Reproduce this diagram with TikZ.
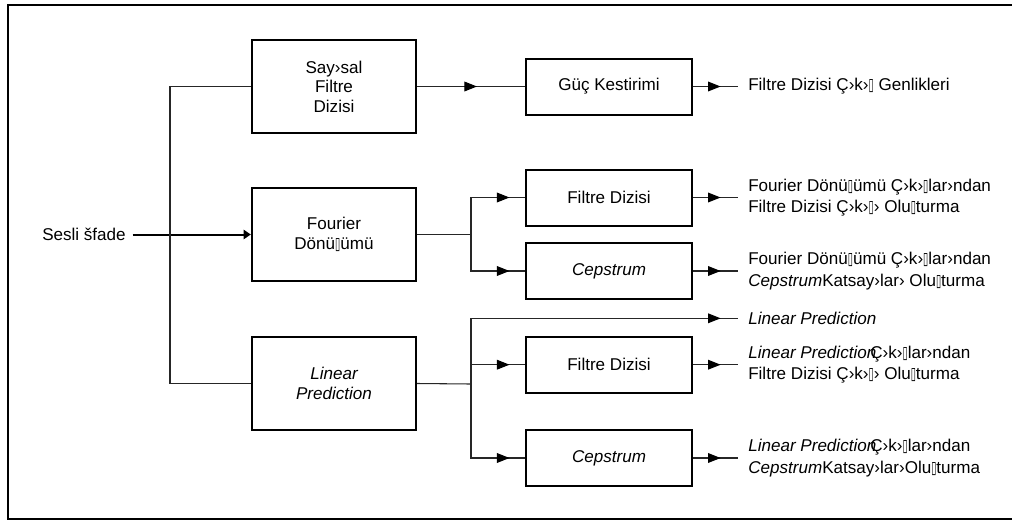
\documentclass[tikz,border=0pt]{standalone}
\usepackage{fontspec}
\setmainfont{Liberation Sans}
\newfontfamily\symf{DejaVu Sans}
\usetikzlibrary{arrows.meta,decorations.markings}
% narrow empty box glyph
\newcommand\missgl{\scalebox{0.55}[1]{\symf ▯}}
\newcommand\boxfont{\fontsize{12.8pt}{14.6pt}\selectfont}
\newcommand\outfont{\fontsize{12.8pt}{16.2pt}\selectfont}

\tikzset{
  blk/.style={draw=black, line width=1.5pt, fill=white, align=center,
    inner sep=0pt, font=\boxfont},
  bigblk/.style={blk, minimum width=123.2pt, minimum height=69.75pt},
  smlblk/.style={blk, minimum width=124.5pt, minimum height=42pt},
  outtxt/.style={anchor=west, inner sep=0pt, align=left, font=\outfont},
  conn/.style={draw=black!85, line width=0.8pt},
  tipat/.style={postaction={decorate}, decoration={markings,
    mark=at position #1 with {\arrow[black]{Triangle[length=9.5pt,width=7.3pt]}}}},
}

\begin{document}
\begin{tikzpicture}[x=0.75pt,y=-0.75pt]
\useasboundingbox (0,0) rectangle (1012,521);

% outer frame (runs past the right edge)
\draw[line width=1.5pt] (1014,5) -- (8,5) -- (8,519) -- (1014,519);

% processing blocks
\node[bigblk] (say) at (334,86.5) {Say›sal\\Filtre\\Dizisi};
\node[bigblk] (four) at (334,234.5) {Fourier\\Dönü\missgl{}ümü};
\node[bigblk, font=\boxfont\itshape] (lp) at (334,383.5) {Linear\\Prediction};

\node[smlblk] (guc) at (609,86.5) {Güç Kestirimi};
\node[smlblk] (fd1) at (609,197.5) {Filtre Dizisi};
\node[smlblk, font=\boxfont\itshape] (cep1) at (609,271) {Cepstrum};
\node[smlblk] (fd2) at (609,364.7) {Filtre Dizisi};
\node[smlblk, font=\boxfont\itshape] (cep2) at (609,458) {Cepstrum};

% input
\node[anchor=east, inner sep=0pt, font=\boxfont] (src) at (126,234.5) {Sesli šfade};
\draw[line width=1.5pt, shorten <=5pt, -{Triangle[length=5.5pt,width=7pt]}] (src.east) -- (four.west);

% feed to the upper and lower blocks
\coordinate (spine) at (170,234.5);
\draw[conn] (say.west) -| (spine) |- (lp.west);

% junctions
\coordinate (jf) at (471,234.5);
\coordinate (jl) at (471,384);

% output ends
\coordinate (o1) at (738,86.5);
\coordinate (o2) at (738,197.5);
\coordinate (o3) at (738,271);
\coordinate (o4) at (738,318.3);
\coordinate (o5) at (738,364.7);
\coordinate (o6) at (738,458);

% connectors
\draw[conn, tipat=-36pt] (say.east) -- (guc.west);
\draw[conn] (four.east) -- (jf);
\draw[conn, tipat=-11.6pt] (jf) |- (fd1.west);
\draw[conn, tipat=-11.6pt] (jf) |- (cep1.west);
\draw[conn] (lp.east) -- (jl);
\draw[conn, tipat=-13pt] (jl) |- (o4);
\draw[conn, tipat=-11.6pt] (jl) |- (fd2.west);
\draw[conn, tipat=-11.6pt] (jl) |- (cep2.west);

\draw[conn, tipat=-13pt] (guc.east) -- (o1);
\draw[conn, tipat=-13pt] (fd1.east) -- (o2);
\draw[conn, tipat=-13pt] (cep1.east) -- (o3);
\draw[conn, tipat=-13pt] (fd2.east) -- (o5);
\draw[conn, tipat=-13pt] (cep2.east) -- (o6);

% output labels
\node[outtxt] (t1) at ([xshift=7.5pt]o1) {Filtre Dizisi Ç›k›\missgl{} Genlikleri};
\node[outtxt] (t2) at ([xshift=7.5pt]o2) {Fourier Dönü\missgl{}ümü Ç›k›\missgl{}lar›ndan\\Filtre Dizisi Ç›k›\missgl{}› Olu\missgl{}turma};
\node[outtxt] (t3) at ([xshift=7.5pt]o3) {Fourier Dönü\missgl{}ümü Ç›k›\missgl{}lar›ndan\\\textit{Cepstrum}Katsay›lar› Olu\missgl{}turma};
\node[outtxt] (t4) at ([xshift=7.5pt]o4) {\textit{Linear Prediction}};
\node[outtxt] (t5) at ([xshift=7.5pt]o5) {\textit{Linear Prediction}\kern-0.35em Ç›k›\missgl{}lar›ndan\\Filtre Dizisi Ç›k›\missgl{}› Olu\missgl{}turma};
\node[outtxt] (t6) at ([xshift=7.5pt]o6) {\textit{Linear Prediction}\kern-0.35em Ç›k›\missgl{}lar›ndan\\\textit{Cepstrum}Katsay›lar›Olu\missgl{}turma};
\end{tikzpicture}
\end{document}
